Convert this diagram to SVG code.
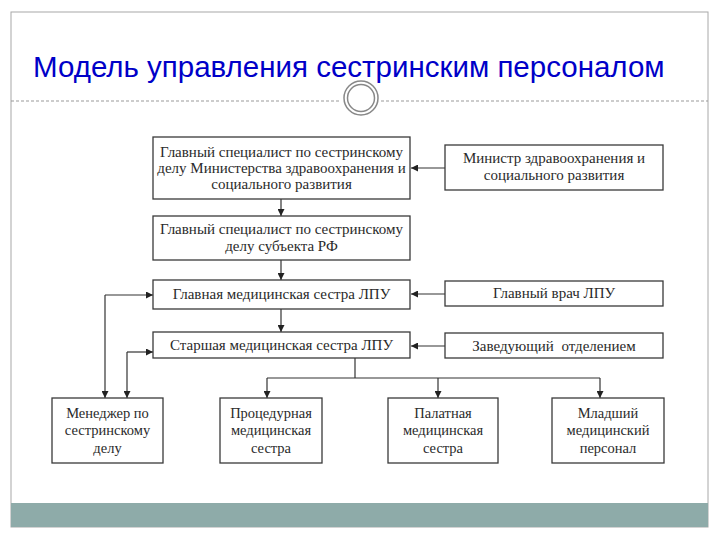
<svg xmlns="http://www.w3.org/2000/svg" width="720" height="540" viewBox="0 0 720 540">
<defs>
<marker id="ah" viewBox="0 0 10 10" refX="10" refY="5" markerWidth="7" markerHeight="7" markerUnits="userSpaceOnUse" orient="auto"><path d="M0,0 L10,5 L0,10 z" fill="#222"/></marker>
<style>
.box{fill:#fff;stroke:#3a3a3a;stroke-width:1.3}
.t{font-family:"Liberation Serif","Times New Roman",serif;font-size:15px;fill:#2a2a2a;text-anchor:middle}
.tb{font-family:"Liberation Serif","Times New Roman",serif;font-size:14.5px;fill:#2a2a2a;text-anchor:middle}
.c{fill:none;stroke:#333;stroke-width:1.2}
.ca{fill:none;stroke:#333;stroke-width:1.2;marker-end:url(#ah)}
</style>
</defs>
<rect width="720" height="540" fill="#fff"/>
<g id="slide">
<rect x="11" y="12" width="697" height="515" fill="#fff" stroke="#a8a8a8" stroke-width="1"/>
<rect x="11" y="503" width="697" height="24" fill="#8eaba9"/>
<line x1="11" y1="101" x2="341" y2="101" stroke="#999" stroke-width="1" stroke-dasharray="3,2"/>
<line x1="381" y1="101" x2="708" y2="101" stroke="#999" stroke-width="1" stroke-dasharray="3,2"/>
<circle cx="361" cy="98" r="17" fill="#fff" stroke="#888" stroke-width="1.5"/>
<circle cx="361" cy="98" r="13.5" fill="#fff" stroke="#888" stroke-width="1.5"/>
<text x="33" y="77" font-family="Liberation Sans, Arial, sans-serif" font-size="29.5" fill="#0000c8">Модель управления сестринским персоналом</text>
</g>
<g id="connectors">
<line class="ca" x1="445" y1="168" x2="411" y2="168"/>
<line class="ca" x1="281" y1="199" x2="281" y2="216"/>
<line class="ca" x1="281" y1="260" x2="281" y2="280"/>
<line class="ca" x1="281" y1="309" x2="281" y2="332"/>
<line class="ca" x1="445" y1="294" x2="411" y2="294"/>
<line class="ca" x1="445" y1="346" x2="411" y2="346"/>
<polyline class="c" points="355,358 355,378"/>
<line class="c" x1="267" y1="378" x2="600" y2="378"/>
<line class="ca" x1="267" y1="378" x2="267" y2="398"/>
<line class="ca" x1="438" y1="378" x2="438" y2="398"/>
<line class="ca" x1="600" y1="378" x2="600" y2="398"/>
<line class="ca" x1="105" y1="295" x2="153" y2="295"/>
<line class="ca" x1="105" y1="295" x2="105" y2="398"/>
<line class="ca" x1="127" y1="352" x2="153" y2="352"/>
<line class="ca" x1="127" y1="352" x2="127" y2="398"/>
</g>
<g id="n1">
<rect class="box" x="153" y="137" width="257" height="62"/>
<text class="t" x="281.5" y="157">Главный специалист по сестринскому</text>
<text class="t" x="281.5" y="173">делу Министерства здравоохранения и</text>
<text class="t" x="281.5" y="189">социального развития</text>
</g>
<g id="n2">
<rect class="box" x="445" y="145" width="218" height="45"/>
<text class="t" x="554" y="163">Министр здравоохранения и</text>
<text class="t" x="554" y="180">социального развития</text>
</g>
<g id="n3">
<rect class="box" x="153" y="216" width="257" height="44"/>
<text class="t" x="281.5" y="234">Главный специалист по сестринскому</text>
<text class="t" x="281.5" y="251">делу субъекта РФ</text>
</g>
<g id="n4">
<rect class="box" x="153" y="280" width="257" height="29"/>
<text class="t" x="281.5" y="299">Главная медицинская сестра ЛПУ</text>
</g>
<g id="n5">
<rect class="box" x="445" y="281" width="218" height="25"/>
<text class="t" x="554" y="298">Главный врач ЛПУ</text>
</g>
<g id="n6">
<rect class="box" x="153" y="332" width="257" height="26"/>
<text class="t" x="281.5" y="350">Старшая медицинская сестра ЛПУ</text>
</g>
<g id="n7">
<rect class="box" x="445" y="333" width="218" height="25"/>
<text class="t" x="554" y="351" xml:space="preserve">Заведующий  отделением</text>
</g>
<g id="n8">
<rect class="box" x="52" y="398" width="111" height="65"/>
<text class="tb" x="107.5" y="418">Менеджер по</text>
<text class="tb" x="107.5" y="435">сестринскому</text>
<text class="tb" x="107.5" y="453">делу</text>
</g>
<g id="n9">
<rect class="box" x="220" y="398" width="102" height="65"/>
<text class="tb" x="271" y="418">Процедурная</text>
<text class="tb" x="271" y="435">медицинская</text>
<text class="tb" x="271" y="453">сестра</text>
</g>
<g id="n10">
<rect class="box" x="388" y="398" width="110" height="65"/>
<text class="tb" x="443" y="418">Палатная</text>
<text class="tb" x="443" y="435">медицинская</text>
<text class="tb" x="443" y="453">сестра</text>
</g>
<g id="n11">
<rect class="box" x="552" y="398" width="112" height="65"/>
<text class="tb" x="608" y="418">Младший</text>
<text class="tb" x="608" y="435">медицинский</text>
<text class="tb" x="608" y="453">персонал</text>
</g>
</svg>
